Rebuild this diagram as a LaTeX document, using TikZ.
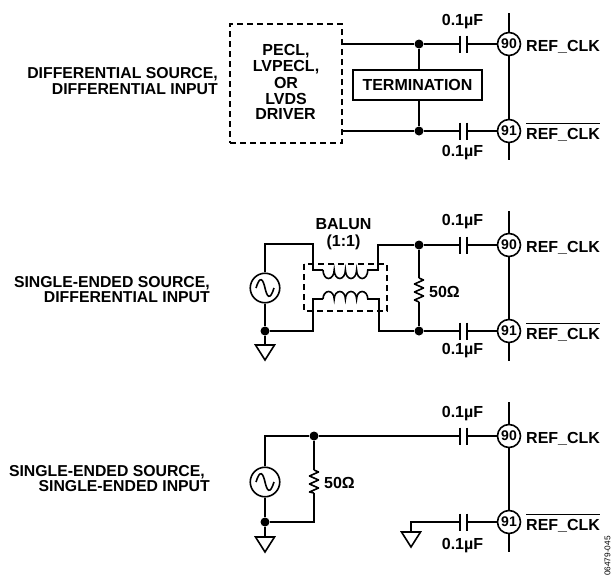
\documentclass[tikz,border=0pt]{standalone}
\usepackage{fontspec}
\setmainfont{Liberation Sans}[BoldFont={Liberation Sans Bold}]
\tikzset{
  wire/.style={line width=1.6pt,line join=miter},
  dashbox/.style={draw,line width=1.5pt,dash pattern=on 6pt off 4pt},
  junc/.style={circle,fill=black,draw=none,inner sep=0pt,minimum size=9pt},
  pin/.style={circle,draw,fill=white,line width=1.6pt,inner sep=0pt,minimum size=23pt,font=\fontsize{14}{14}\selectfont\bfseries},
  src/.style={circle,draw,fill=white,line width=1.6pt,inner sep=0pt,minimum size=29.5pt},
  lab/.style={font=\fontsize{16}{16}\selectfont\bfseries,inner sep=0pt,text height=11.5pt,text depth=0pt},
  sidelab/.style={lab,anchor=east,font=\fontsize{15.8}{16}\selectfont\bfseries},
  termbox/.style={draw,line width=1.6pt,fill=white,minimum width=129pt,minimum height=30pt,inner sep=0pt,lab},
  plate/.style={line width=1.6pt}
}
\newcommand{\capac}[3]{% name, y, label y
  \coordinate (#1L) at (460,#2);
  \coordinate (#1R) at (467,#2);
  \draw[plate] (460,#2-8.5) -- (460,#2+8.5);
  \draw[plate] (467,#2-8.5) -- (467,#2+8.5);
  \node[lab] (#1t) at (462.5,#3) {0.1µF};
}
\newcommand{\gnd}[3]{% name, x, top y
  \coordinate (#1) at (#2,#3);
  \draw[wire] (#2-9.5,#3) -- (#2+9.5,#3) -- (#2,#3+15) -- cycle;
}
\newcommand{\pins}[5]{% vertical top, y90, y91, vertical bottom, prefix
  \coordinate (#5a) at (509,#1);
  \coordinate (#5b) at (509,#4);
  \draw[wire] (#5a) -- (#5b);
  \node[pin] (#5p) at (509,#2) {90};
  \node[pin] (#5q) at (509,#3) {91};
  \node[lab,anchor=west] (#5r) at (526,#2+1.5) {REF\_CLK};
  \node[lab,anchor=west] (#5s) at (526,#3+2.5) {REF\_CLK};
  \draw[line width=1.3pt] (526,#3-7.5) -- (600,#3-7.5);
}
\newcommand{\sine}[2]{% centre x,y
  \draw[wire] (#1-9,#2) .. controls (#1-5,#2-13) and (#1-2,#2-9) .. (#1,#2) .. controls (#1+2,#2+9) and (#1+5,#2+13) .. (#1+9,#2);
}
\newcommand{\resist}[3]{% x, y top, y bottom
  \draw[wire,line join=round] (#1,#2) -- (#1+4.5,#2+2) -- (#1-4.5,#2+6) -- (#1+4.5,#2+10) -- (#1-4.5,#2+14) -- (#1+4.5,#2+18) -- (#1-4.5,#2+22) -- (#1,#3);
}
\begin{document}
\begin{tikzpicture}[x=1pt,y=-1pt]
\useasboundingbox (0,0) rectangle (613,581);
% --- top circuit
\node[dashbox,minimum width=112pt,minimum height=119pt,inner sep=0pt] (drv) at (286,83.5) {};
\node[lab] (d1) at (286,50) {PECL,};
\node[lab] (d2) at (286,66) {LVPECL,};
\node[lab] (d3) at (286,83) {OR};
\node[lab] (d4) at (286,98.5) {LVDS};
\node[lab] (d5) at (285.5,114) {DRIVER};
\coordinate (drvA) at (342,44);
\coordinate (drvB) at (342,131);
\pins{13}{44}{131}{160}{a}
\capac{c1}{44}{20}
\capac{c2}{131}{151}
\node[junc] (j1) at (419,44) {};
\node[junc] (j2) at (419,131) {};
\node[termbox] (term) at (417.5,85) {TERMINATION};
\draw[wire] (drvA) -- (j1) -- (c1L);
\draw[wire] (c1R) -- (ap);
\draw[wire] (drvB) -- (j2) -- (c2L);
\draw[wire] (c2R) -- (aq);
\draw[wire] (j1) -- (419,70);
\draw[wire] (419,100) -- (j2);
\node[sidelab] (l1a) at (218,73) {DIFFERENTIAL SOURCE,};
\node[sidelab] (l1b) at (218,89) {DIFFERENTIAL INPUT};
% --- middle circuit
\pins{211}{245}{331}{361}{b}
\capac{c3}{245}{220}
\capac{c4}{331}{349}
\node[lab] (bala) at (343.5,224) {BALUN};
\node[lab] (balb) at (343.5,241) {(1:1)};
\node[junc] (j3) at (419,245) {};
\node[junc] (j4) at (419,331) {};
\node[junc] (j5) at (265,331) {};
\node[src] (s1) at (265,288) {};
\sine{265}{288}
\gnd{g1}{265}{345}
\draw[wire] (j5) -- (g1);
\draw[wire] (s1) -- (j5) -- (313,331) -- (313,299) -- (323,299);
\draw[wire] (s1) -- (265,244) -- (313,244) -- (313,270) -- (323,270);
% coils
\draw[wire] (323,270) arc[start angle=180,end angle=0,x radius=5.6,y radius=8.5] arc[start angle=180,end angle=0,x radius=5.6,y radius=8.5] arc[start angle=180,end angle=0,x radius=5.6,y radius=8.5] arc[start angle=180,end angle=0,x radius=5.6,y radius=8.5] -- (368,270);
\draw[wire] (323,299) arc[start angle=180,end angle=360,x radius=5.6,y radius=7.5] arc[start angle=180,end angle=360,x radius=5.6,y radius=7.5] arc[start angle=180,end angle=360,x radius=5.6,y radius=7.5] arc[start angle=180,end angle=360,x radius=5.6,y radius=7.5] -- (368,299);
\draw[wire] (368,270) -- (378,270) -- (378,245) -- (j3);
\draw[wire] (368,299) -- (379,299) -- (379,331) -- (j4);
\draw[dashbox] (304,264) rectangle (387,311);
\draw[wire] (j3) -- (c3L);
\draw[wire] (c3R) -- (bp);
\draw[wire] (j4) -- (c4L);
\draw[wire] (c4R) -- (bq);
\coordinate (r1a) at (419,278);
\coordinate (r1b) at (419,302);
\draw[wire] (j3) -- (r1a);
\resist{419}{278}{302}
\draw[wire] (r1b) -- (j4);
\node[lab,anchor=west] (r1t) at (429,292) {50Ω};
\node[sidelab] (l2a) at (210,282) {SINGLE-ENDED SOURCE,};
\node[sidelab] (l2b) at (210,297) {DIFFERENTIAL INPUT};
% --- bottom circuit
\pins{402}{436}{522}{552}{d}
\capac{c5}{436}{412}
\capac{c6}{522}{544}
\node[junc] (j6) at (314,436) {};
\node[junc] (j7) at (265,522) {};
\node[src] (s2) at (265,482) {};
\sine{265}{482}
\gnd{g2}{265}{537}
\draw[wire] (j7) -- (g2);
\draw[wire] (s2) -- (265,436) -- (j6) -- (c5L);
\draw[wire] (c5R) -- (dp);
\draw[wire] (s2) -- (j7) -- (314,522) -- (314,493);
\resist{314}{470}{493}
\draw[wire] (j6) -- (314,470);
\draw[wire] (c6R) -- (dq);
\gnd{g3}{411}{532}
\draw[wire] (c6L) -- (411,522) -- (g3);
\node[lab,anchor=west] (r2t) at (324,483) {50Ω};
\node[sidelab] (l3a) at (205,471) {SINGLE-ENDED SOURCE,};
\node[sidelab] (l3b) at (210,486) {SINGLE-ENDED INPUT};
\node[rotate=90,inner sep=0pt,font=\fontsize{8.3}{8.3}\selectfont] (code) at (607.5,556) {06479-045};
\end{tikzpicture}
\end{document}
